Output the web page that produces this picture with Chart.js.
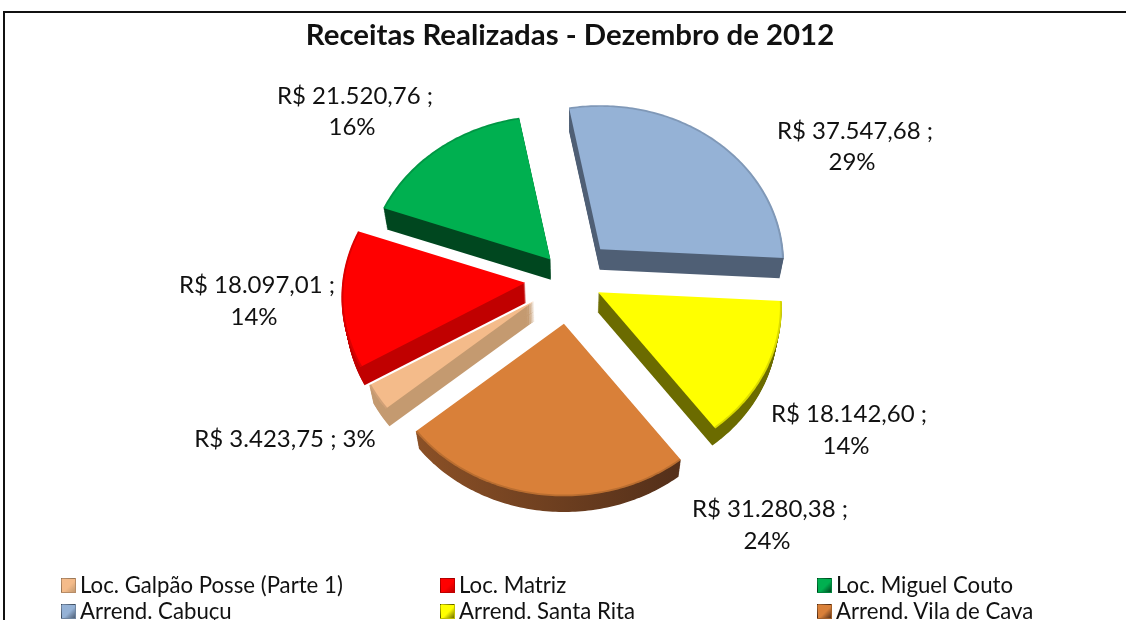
<!DOCTYPE html>
<html>
<head>
<meta charset="utf-8">
<script src="https://cdn.jsdelivr.net/npm/chart.js@4/dist/chart.umd.min.js"></script>
<style>
  html, body { margin: 0; background: #fff; overflow: hidden; width: 1126px; height: 620px; }
  #frame { position: absolute; left: 3px; top: 11px; width: 1200px; height: 700px; border: 2px solid #111; }
  #wrap { position: absolute; left: 0; top: 0; width: 1144px; height: 640px; }
  #legend div { position: absolute; font: 22.2px Lato, sans-serif; color: #111; white-space: nowrap; line-height: 26px; }
  #legend i { position: absolute; left: -19px; top: 6px; width: 15px; height: 15px; box-sizing: border-box; border: 1px solid rgba(0,0,0,.25); }
</style>
</head>
<body>
<div id="frame"></div>
<div id="wrap"><canvas id="pie"></canvas></div>
<div id="legend"></div>
<script>
const categories = ['Loc. Galpão Posse (Parte 1)', 'Loc. Matriz', 'Loc. Miguel Couto', 'Arrend. Cabuçu', 'Arrend. Santa Rita', 'Arrend. Vila de Cava'];
const receitas = [3423.75, 18097.01, 21520.76, 37547.68, 18142.60, 31280.38];
const percents = [3, 14, 16, 29, 14, 24];

const topColors = ['#f4bb8a', '#ff0000', '#00b050', '#95b2d6', '#ffff00', '#d98039'];
const sideColors = [['#c49a70', '#c49a70'], ['#c00000', '#c00000'], ['#00471f', '#00471f'], ['#4f5f75', '#4f5f75'], ['#6b6b00', '#6b6b00'], ['#8a5026', '#55301a']];
const explode = [44, 45, 30, 46, 32, 52];

// back slices first, the red one has to cover the peach one
const drawOrder = [2, 3, 0, 1, 4, 5];

// where Excel left the labels (centre of each line)
const labelSpots = [
  [[285, 439]],
  [[257, 285], [254, 317]],
  [[355, 96], [352, 127]],
  [[855, 131], [852, 162]],
  [[849, 414], [846, 446]],
  [[770, 509], [767, 541]]
];

function brl(v) {
  return 'R$ ' + v.toLocaleString('pt-BR', { minimumFractionDigits: 2, maximumFractionDigits: 2 });
}

// fake 3D: tilt the pie, extrude each slice downward, the near side comes out bigger
const pie3d = {
  id: 'pie3d',
  beforeDatasetDraw(chart, args, opts) {
    const ctx = chart.ctx;
    const arcs = args.meta.data;
    drawOrder.forEach(function (i) {
      const arc = arcs[i];
      const p = arc.getProps(['x', 'y', 'startAngle', 'endAngle', 'outerRadius'], true);
      const mid = (p.startAngle + p.endAngle) / 2;
      const off = arc.options.offset;

      function place(drop) {
        const q = 1 - opts.shrink * drop / opts.depth;
        ctx.translate(p.x, p.y + drop);
        ctx.scale(q, q * opts.tilt);
        ctx.translate(Math.cos(mid) * off, Math.sin(mid) * off);
      }
      function rim(inset) {
        const steps = Math.ceil((p.endAngle - p.startAngle) * 60);
        for (let s = 0; s <= steps; s++) {
          const a = p.startAngle + (p.endAngle - p.startAngle) * s / steps;
          const r = p.outerRadius * (1 + opts.perspective * Math.sin(a)) - inset;
          ctx.lineTo(Math.cos(a) * r, Math.sin(a) * r);
        }
      }
      function wedge() {
        ctx.beginPath();
        ctx.moveTo(0, 0);
        rim(0);
        ctx.closePath();
      }

      for (let d = opts.depth; d >= 1; d--) {
        ctx.save();
        place(d);
        const g = ctx.createLinearGradient(-p.outerRadius, 0, p.outerRadius, 0);
        g.addColorStop(0.1, sideColors[i][0]);
        g.addColorStop(0.8, sideColors[i][1]);
        ctx.fillStyle = g;
        wedge();
        ctx.fill();
        ctx.restore();
      }

      ctx.save();
      place(0);
      ctx.fillStyle = arc.options.backgroundColor;
      wedge();
      ctx.fill();
      ctx.beginPath();
      rim(1);
      ctx.strokeStyle = 'rgba(0,0,0,.14)';
      ctx.lineWidth = 2;
      ctx.stroke();
      ctx.restore();
    });
    return false;
  },
  afterDatasetsDraw(chart) {
    const ctx = chart.ctx;
    ctx.save();
    ctx.font = '24px Lato, sans-serif';
    ctx.fillStyle = '#111';
    ctx.textAlign = 'center';
    ctx.textBaseline = 'middle';
    receitas.forEach(function (v, i) {
      const lines = labelSpots[i].length === 1
        ? [brl(v) + ' ; ' + percents[i] + '%']
        : [brl(v) + ' ;', percents[i] + '%'];
      lines.forEach(function (txt, k) {
        ctx.fillText(txt, labelSpots[i][k][0], labelSpots[i][k][1]);
      });
    });
    ctx.restore();
  }
};

const chart = new Chart(document.getElementById('pie'), {
  type: 'pie',
  data: {
    labels: categories,
    datasets: [{
      data: receitas,
      backgroundColor: topColors,
      offset: explode,
      borderWidth: 0
    }]
  },
  options: {
    responsive: true,
    maintainAspectRatio: false,
    animation: false,
    rotation: 230,
    radius: 183,
    layout: { padding: { right: 4, bottom: 135 } },
    events: [],
    plugins: {
      legend: { display: false },
      tooltip: { enabled: false },
      title: {
        display: true,
        text: 'Receitas Realizadas - Dezembro de 2012',
        color: '#111',
        font: { family: 'Lato, sans-serif', size: 29.4, weight: 'bold' },
        padding: { top: 18, bottom: 0 }
      },
      pie3d: { tilt: 0.865, depth: 20, shrink: 0.02, perspective: 0.09 }
    }
  },
  plugins: [pie3d]
});

// legend in three fixed columns, Chart.js only wraps it by row
const legendBox = document.getElementById('legend');
const legendX = [80, 459, 836];
const legendY = [572, 598];
categories.forEach(function (name, i) {
  const d = document.createElement('div');
  d.style.left = legendX[i % 3] + 'px';
  d.style.top = legendY[Math.floor(i / 3)] + 'px';
  d.textContent = name;
  const sw = document.createElement('i');
  sw.style.background = 'linear-gradient(135deg,' + topColors[i] + ' 55%,' + sideColors[i][1] + ')';
  d.appendChild(sw);
  legendBox.appendChild(d);
});
</script>
</body>
</html>
